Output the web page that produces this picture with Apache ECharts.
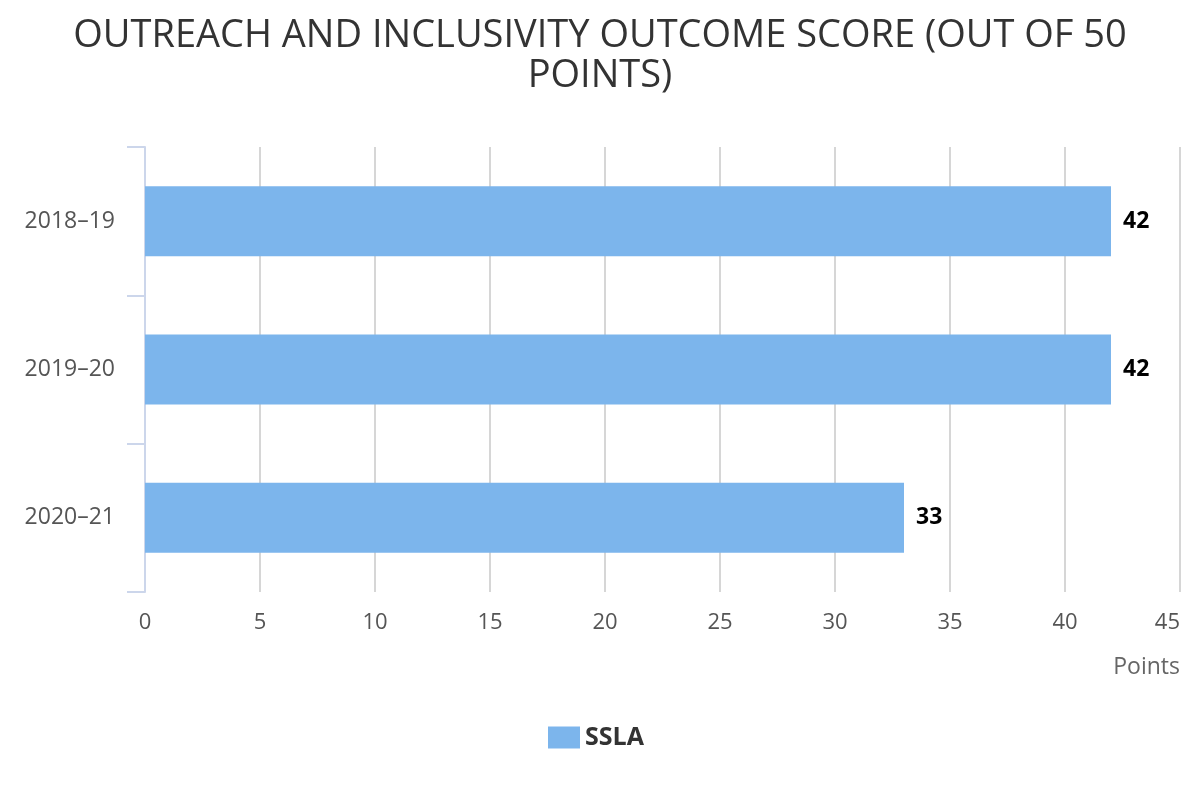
<!DOCTYPE html>
<html>
<head>
<meta charset="utf-8">
<script src="https://cdn.jsdelivr.net/npm/echarts@6/dist/echarts.min.js"></script>
<style>html,body{margin:0;padding:0;background:#fff;}#c{width:1200px;height:800px;}</style>
</head>
<body>
<div id="c"></div>
<script>
const titleText = "OUTREACH AND INCLUSIVITY OUTCOME SCORE (OUT OF 50\nPOINTS)";
const categories = ["2018–19", "2019–20", "2020–21"];
const seriesName = "SSLA";
const sslaValues = [42, 42, 33];
const xAxisName = "Points";
const xMin = 0, xMax = 45, xInterval = 5;

const FONT = '"Open Sans", "Noto Sans", sans-serif';
const chart = echarts.init(document.getElementById('c'), null, {renderer: 'canvas'});
chart.setOption({
  backgroundColor: '#fff',
  textStyle: {fontFamily: FONT},
  title: {
    text: titleText,
    left: 'center',
    top: 11,
    textStyle: {fontFamily: FONT, fontSize: 38, fontWeight: 'normal', color: '#333', lineHeight: 40}
  },
  legend: {
    bottom: 45,
    left: 543,
    itemWidth: 32,
    itemHeight: 22,
    itemGap: 10,
    icon: 'rect',
    textStyle: {fontFamily: FONT, fontSize: 25, fontWeight: 'bold', color: '#333'},
    data: [seriesName]
  },
  grid: {left: 145, right: 20, top: 147, bottom: 208, containLabel: false},
  xAxis: {
    type: 'value',
    min: xMin, max: xMax, interval: xInterval,
    name: xAxisName,
    nameLocation: 'end',
    nameGap: 0,
    nameTextStyle: {fontFamily: FONT, fontSize: 23, color: '#666', align: 'right', verticalAlign: 'top', padding: [64, 0, 0, 0]},
    axisLine: {show: false},
    axisTick: {show: false},
    axisLabel: {fontFamily: FONT, fontSize: 22, color: '#555', margin: 20, alignMaxLabel: 'right'},
    splitLine: {show: true, lineStyle: {color: '#d6d6d6', width: 2}}
  },
  yAxis: {
    type: 'category',
    data: categories,
    inverse: true,
    axisLine: {show: true, lineStyle: {color: '#ccd6eb', width: 2}},
    axisTick: {show: true, length: 18, alignWithLabel: false, lineStyle: {color: '#ccd6eb', width: 2}},
    axisLabel: {fontFamily: FONT, fontSize: 23, color: '#555', margin: 30}
  },
  series: [{
    name: seriesName,
    type: 'bar',
    data: sslaValues,
    barWidth: 70,
    itemStyle: {color: '#7cb5ec'},
    label: {
      show: true,
      position: 'right',
      distance: 12,
      fontFamily: FONT,
      fontSize: 23,
      fontWeight: 'bold',
      color: '#000'
    }
  }],
  animation: false
});
</script>
</body>
</html>
